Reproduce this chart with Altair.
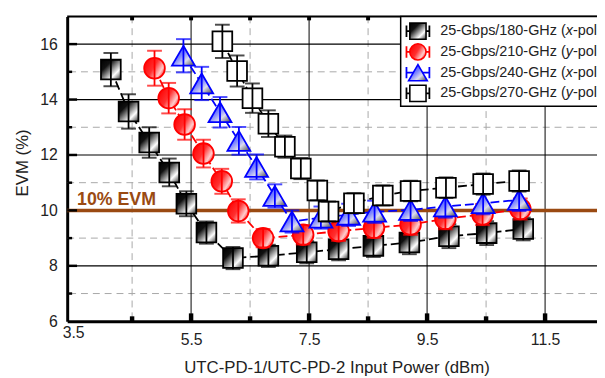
import altair as alt
import pandas as pd

# ---------------- data ----------------
x_tick_labels = [3.5, 5.5, 7.5, 9.5, 11.5]
y_tick_labels = [6, 8, 10, 12, 14, 16]
x_major = [5.5, 7.5, 9.5, 11.5]
x_minor = [4.5, 6.5, 8.5, 10.5]
y_major = [8, 10, 12, 14, 16]
y_minor_full = [7, 13, 15]
y_minor_short = [9, 11]
y_minor = [7, 9, 11, 13, 15]
x_range = [3.4, 12.38]
short_grid_end = 11.45
evm_limit = 10

names = ["25-Gbps/180-GHz (", "25-Gbps/210-GHz (", "25-Gbps/240-GHz (", "25-Gbps/270-GHz ("]
pols = ["x", "y", "x", "y"]

p180_x = [4.14, 4.44, 4.79, 5.13, 5.42, 5.76, 6.21, 6.81, 7.46, 8.00, 8.59, 9.20, 9.87, 10.51, 11.13]
p180_y = [15.08, 13.57, 12.45, 11.37, 10.24, 9.20, 8.28, 8.36, 8.49, 8.60, 8.72, 8.84, 9.07, 9.18, 9.33]
p180_e = [0.60, 0.62, 0.55, 0.50, 0.45, 0.40, 0.40, 0.40, 0.40, 0.40, 0.40, 0.42, 0.43, 0.43, 0.41]

p210_x = [4.88, 5.12, 5.39, 5.71, 6.02, 6.30, 6.72, 7.40, 8.00, 8.60, 9.22, 9.81, 10.44, 11.08]
p210_y = [15.13, 14.05, 13.10, 12.05, 11.05, 9.98, 9.00, 9.12, 9.25, 9.37, 9.49, 9.70, 9.85, 10.05]
p210_e = [0.63, 0.55, 0.55, 0.50, 0.45, 0.42, 0.33, 0.35, 0.35, 0.36, 0.37, 0.38, 0.38, 0.38]

p240_x = [5.37, 5.68, 5.99, 6.31, 6.61, 6.92, 7.21, 7.70, 8.17, 8.61, 9.22, 9.81, 10.45, 11.06]
p240_y = [15.58, 14.58, 13.54, 12.51, 11.57, 10.52, 9.60, 9.74, 9.84, 9.95, 10.02, 10.14, 10.26, 10.38]
p240_e = [0.60, 0.60, 0.55, 0.50, 0.45, 0.42, 0.40, 0.40, 0.40, 0.40, 0.40, 0.40, 0.40, 0.40]

p270_x = [6.03, 6.28, 6.54, 6.81, 7.09, 7.36, 7.64, 7.83, 8.26, 8.75, 9.22, 9.82, 10.45, 11.06]
p270_y = [16.10, 15.03, 14.05, 13.13, 12.30, 11.51, 10.72, 9.96, 10.26, 10.54, 10.70, 10.82, 10.95, 11.06]
p270_e = [0.60, 0.56, 0.53, 0.48, 0.40, 0.38, 0.36, 0.36, 0.36, 0.36, 0.37, 0.37, 0.38, 0.38]

# ---------------- layout / style ----------------
W, H = 537, 309
FONT = "Liberation Sans"
BROWN = "#9A4A12"

xs = alt.Scale(domain=x_range, nice=False, zero=False)
ys = alt.Scale(domain=[6, 17], nice=False, zero=False)

xaxis = alt.Axis(values=x_tick_labels, format=".1f", ticks=False, grid=False, domainColor="black", domainWidth=3,
                 labelFont=FONT, labelFontSize=16, labelColor="#222",
                 labelPadding={"condition": {"test": "datum.value == 3.5", "value": 3}, "value": 11},
                 title="UTC-PD-1/UTC-PD-2 Input Power (dBm)", titleFont=FONT, titleFontSize=17,
                 titleFontWeight="normal", titleColor="#222", titleX=273, titleY=47, titleBaseline="middle")
yaxis = alt.Axis(values=y_tick_labels, format="d", ticks=False, grid=False, domainColor="black", domainWidth=3,
                 labelFont=FONT, labelFontSize=16, labelColor="#222", labelPadding=10,
                 title="EVM  (%)", titleFont=FONT, titleFontSize=17, titleFontWeight="normal",
                 titleColor="#222", titleX=-45, titleY=148, titleBaseline="middle")


def X(f):
    return alt.X(f, type="quantitative", scale=xs, axis=xaxis)


def Y(f):
    return alt.Y(f, type="quantitative", scale=ys, axis=yaxis)


def vals(v):
    return pd.DataFrame({"v": v})


one = pd.DataFrame({"a": [0]})

layers = []
# grid
layers.append(alt.Chart(vals(x_minor)).mark_rule(color="#a8a8a8", strokeWidth=1, strokeDash=[7, 5]).encode(x=X("v")))
layers.append(alt.Chart(vals(y_minor_full)).mark_rule(color="#a8a8a8", strokeWidth=1, strokeDash=[7, 5]).encode(y=Y("v")))
short_df = pd.DataFrame({"v": y_minor_short, "x0": [x_range[0]] * len(y_minor_short),
                         "x1": [short_grid_end] * len(y_minor_short)})
layers.append(alt.Chart(short_df).mark_rule(color="#a8a8a8", strokeWidth=1, strokeDash=[7, 5])
              .encode(y=Y("v"), x=X("x0"), x2="x1"))
layers.append(alt.Chart(vals(x_major)).mark_rule(color="black", strokeWidth=1).encode(x=X("v")))
layers.append(alt.Chart(vals(y_major)).mark_rule(color="black", strokeWidth=1.2).encode(y=Y("v")))
# 10% EVM line
layers.append(alt.Chart(vals([evm_limit])).mark_rule(color=BROWN, strokeWidth=3.5).encode(y=Y("v")))
layers.append(alt.Chart(one).mark_text(text="10% EVM", font=FONT, fontSize=18, fontWeight="bold",
                                       color=BROWN, align="left", baseline="middle")
              .encode(x=alt.value(10), y=alt.value(186)))

grad_black = alt.LinearGradient(gradient="linear", x1=0, y1=0, x2=1, y2=1, stops=[
    alt.GradientStop(offset=0, color="#000000"), alt.GradientStop(offset=0.3, color="#111111"),
    alt.GradientStop(offset=0.72, color="#ffffff"), alt.GradientStop(offset=1, color="#333333")])
grad_red = alt.LinearGradient(gradient="linear", x1=0, y1=0.2, x2=1, y2=0.8, stops=[
    alt.GradientStop(offset=0, color="#ff0000"), alt.GradientStop(offset=0.45, color="#ff3030"),
    alt.GradientStop(offset=0.78, color="#ffcccc"), alt.GradientStop(offset=1, color="#ff2020")])
grad_blue = alt.LinearGradient(gradient="linear", x1=0, y1=0, x2=1, y2=1, stops=[
    alt.GradientStop(offset=0, color="#1020ff"), alt.GradientStop(offset=0.45, color="#7c84ff"),
    alt.GradientStop(offset=0.68, color="#dcdcee"), alt.GradientStop(offset=1, color="#404040")])

series = [
    dict(x=p180_x, y=p180_y, e=p180_e, color="black", shape="square", fill=grad_black, size=400, lsize=270),
    dict(x=p210_x, y=p210_y, e=p210_e, color="#ff0000", shape="circle", fill=grad_red, size=440, lsize=270),
    dict(x=p240_x, y=p240_y, e=p240_e, color="#0000ff", shape="triangle-up", fill=grad_blue, size=540, lsize=360),
    dict(x=p270_x, y=p270_y, e=p270_e, color="black", shape="square", fill="#ffffff", size=400, lsize=270),
]

data_layers = []
for s in series:
    df = pd.DataFrame({"x": s["x"], "y": s["y"], "e": s["e"]})
    df["lo"] = df["y"] - df["e"]
    df["hi"] = df["y"] + df["e"]
    base = alt.Chart(df)
    data_layers.append(base.mark_line(color=s["color"], strokeWidth=1.8, strokeDash=[9, 4]).encode(x=X("x"), y=Y("y")))
    data_layers.append(base.mark_point(shape=s["shape"], filled=True, fill=s["fill"], stroke=s["color"],
                                       strokeWidth=1.8, size=s["size"], opacity=1).encode(x=X("x"), y=Y("y")))
    data_layers.append(base.mark_rule(color=s["color"], strokeWidth=1.8).encode(x=X("x"), y=Y("lo"), y2="hi"))
    data_layers.append(base.mark_tick(orient="horizontal", color=s["color"], size=15, thickness=2)
                       .encode(x=X("x"), y=Y("lo")))
    data_layers.append(base.mark_tick(orient="horizontal", color=s["color"], size=15, thickness=2)
                       .encode(x=X("x"), y=Y("hi")))
layers += data_layers

# inward ticks and frame
layers.append(alt.Chart(vals(y_major)).mark_rule(color="black", strokeWidth=2.5).encode(y=Y("v"), x=alt.value(0), x2=alt.value(10)))
layers.append(alt.Chart(vals(y_minor)).mark_rule(color="black", strokeWidth=2.5).encode(y=Y("v"), x=alt.value(0), x2=alt.value(5)))
layers.append(alt.Chart(vals(x_major)).mark_rule(color="black", strokeWidth=4.5).encode(x=X("v"), y=alt.value(H), y2=alt.value(H - 8)))
layers.append(alt.Chart(vals(x_minor)).mark_rule(color="black", strokeWidth=4.5).encode(x=X("v"), y=alt.value(H), y2=alt.value(H - 5)))
layers.append(alt.Chart(vals(x_major + x_minor)).mark_rule(color="black", strokeWidth=4).encode(x=X("v"), y=alt.value(0), y2=alt.value(4)))
layers.append(alt.Chart(one).mark_rule(color="black", strokeWidth=2).encode(x=alt.value(0), x2=alt.value(W + 10), y=alt.value(0)))

# legend
layers.append(alt.Chart(one).mark_rect(fill="white", stroke="black", strokeWidth=1.5)
              .encode(x=alt.value(338), x2=alt.value(W + 40), y=alt.value(0), y2=alt.value(91)))
cap_path = "M-1,0H1M-1,-0.5V0.5M1,-0.5V0.5"
for i, s in enumerate(series):
    ry = 15 + 21 * i
    layers.append(alt.Chart(one).mark_point(shape=cap_path, filled=False, stroke=s["color"], strokeWidth=1.8,
                                            size=540, opacity=1).encode(x=alt.value(355.5), y=alt.value(ry)))
    layers.append(alt.Chart(one).mark_point(shape=s["shape"], filled=True, fill=s["fill"], stroke=s["color"],
                                            strokeWidth=1.6, size=s["lsize"], opacity=1)
                  .encode(x=alt.value(355.5), y=alt.value(ry)))
    layers.append(alt.Chart(one).mark_text(text=names[i], font=FONT, fontSize=14.6, color="#222",
                                           align="left", baseline="middle").encode(x=alt.value(378), y=alt.value(ry)))
    layers.append(alt.Chart(one).mark_text(text=pols[i], font=FONT, fontSize=14.6, fontStyle="italic", color="#222",
                                           align="left", baseline="middle").encode(x=alt.value(505.4), y=alt.value(ry)))
    layers.append(alt.Chart(one).mark_text(text="-pol)", font=FONT, fontSize=14.6, color="#222",
                                           align="left", baseline="middle").encode(x=alt.value(512.7), y=alt.value(ry)))

chart = alt.layer(*layers).properties(
    width=W, height=H,
    autosize=alt.AutoSizeParams(type="none"),
    padding={"left": 60, "top": 6, "right": 0, "bottom": 55},
).configure_view(strokeWidth=0).configure(background="white")

chart.save("out.html", embed_options={"renderer": "svg", "actions": False})
